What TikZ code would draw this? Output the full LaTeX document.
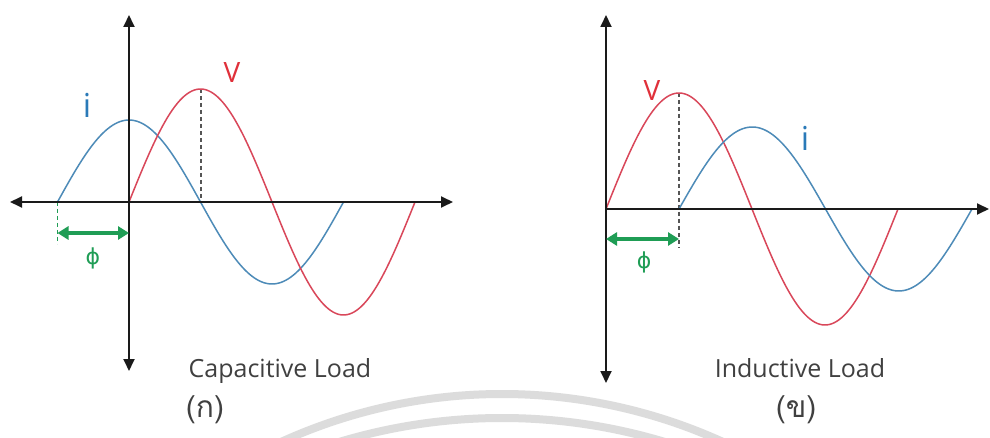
\documentclass[tikz,border=0pt]{standalone}
\usepackage{fontspec}
\setmainfont{Open Sans}
\newfontfamily\thaifont[Script=Thai]{Loma}
\newfontfamily\symfont{DejaVu Sans}
\usetikzlibrary{arrows.meta}
\definecolor{curveblue}{HTML}{4D8BB8}
\definecolor{labelblue}{HTML}{2A7AB8}
\definecolor{curvered}{HTML}{D9475A}
\definecolor{labelred}{HTML}{E0303A}
\definecolor{phigreen}{HTML}{1F9D55}
\definecolor{axisblack}{HTML}{1A1A1A}
\definecolor{dashgrey}{HTML}{555555}
\definecolor{textgrey}{HTML}{404040}
\definecolor{arcgrey}{HTML}{DCDCDC}
\tikzset{
  axisline/.style={draw=axisblack, line width=1.8pt},
  axisarrow/.style={-{Triangle[length=12pt,width=11pt]}},
  axisarrows/.style={{Triangle[length=12pt,width=11pt]}-{Triangle[length=12pt,width=11pt]}},
  icurve/.style={draw=curveblue, line width=1.5pt},
  vcurve/.style={draw=curvered, line width=1.5pt},
  dropline/.style={draw=dashgrey, line width=1.2pt, dash pattern=on 4pt off 3pt},
  greendash/.style={draw=phigreen, line width=1.2pt, dash pattern=on 4pt off 3pt},
  phiarrow/.style={draw=phigreen, line width=3.5pt, {Triangle[length=11pt,width=13pt]}-{Triangle[length=11pt,width=13pt]}},
  ilabel/.style={text=labelblue, font=\fontsize{33}{36}\selectfont, anchor=base, inner sep=0pt},
  vlabel/.style={text=labelred, font=\fontsize{28}{32}\selectfont, anchor=base, inner sep=0pt},
  philabel/.style={text=phigreen, font=\symfont\fontsize{22}{26}\selectfont, inner sep=0pt},
  loadlabel/.style={text=textgrey, font=\fontsize{25}{30}\selectfont, anchor=base, inner sep=0pt},
  thailabel/.style={text=textgrey, font=\thaifont\fontsize{30}{34}\selectfont, inner sep=0pt},
  bgarc/.style={draw=arcgrey, line width=8pt}
}
\begin{document}
\begin{tikzpicture}[x=1pt,y=-1pt]
\useasboundingbox (0,0) rectangle (990,438);
\fill[white] (0,0) rectangle (990,438);
% background arcs
\draw[bgarc] plot[domain=280:724, samples=120] (\x,{927-100*sqrt(28.4089-((\x-502)/100)^2)});
\draw[bgarc] plot[domain=338:666, samples=120] (\x,{983-100*sqrt(31.9225-((\x-502)/100)^2)});

% ===== Left panel: capacitive =====
\coordinate (LO) at (129,202);
\coordinate (LL) at (10,202);
\coordinate (LR) at (453,202);
\coordinate (LT) at (129,15);
\coordinate (LB) at (129,371);
\coordinate (LiS) at (57.5,202);
\coordinate (LiSd) at (57.5,244);
\coordinate (LOd) at (129,244);
\coordinate (LVpk) at (201,89);
\coordinate (LVax) at (201,202);
\coordinate (LAa) at (57.5,233);
\coordinate (LAb) at (129,233);
\draw[greendash] (LiS) -- (LiSd);
\draw[greendash] (LO) -- (LOd);
\draw[dropline] (LVpk) -- (LVax);
\draw[icurve] plot[domain=57.5:343.5, samples=120] (\x,{202-82*sin(((\x-57.5)/143)*180)});
\draw[vcurve] plot[domain=129:415, samples=120] (\x,{202-113*sin(((\x-129)/143)*180)});
\draw[axisline, axisarrows] (LL) -- (LR);
\draw[axisline, axisarrows] (LT) -- (LB);
\draw[phiarrow] (LAa) -- (LAb);
\node[philabel] (Lphi) at (93,258) {ϕ};
\node[ilabel] (Li) at (87,118) {i};
\node[vlabel] (LV) at (232,83) {V};
\node[loadlabel] (Lload) at (280,377) {Capacitive Load};
\node[thailabel] (Lcap) at (205,410) {(ก)};

% ===== Right panel: inductive =====
\coordinate (RO) at (606,209);
\coordinate (RR) at (989,209);
\coordinate (RT) at (606,15);
\coordinate (RB) at (606,383);
\coordinate (ROd) at (606,248);
\coordinate (RVpk) at (679,93);
\coordinate (RVax) at (679,248);
\coordinate (RAa) at (606,239);
\coordinate (RAb) at (679,239);
\draw[greendash] (RO) -- (ROd);
\draw[dropline] (RVpk) -- (RVax);
\draw[vcurve] plot[domain=606:898, samples=120] (\x,{209-116*sin(((\x-606)/146)*180)});
\draw[icurve] plot[domain=679:972, samples=120] (\x,{209-82*sin(((\x-679)/146.5)*180)});
\draw[axisline, axisarrow] (RO) -- (RR);
\draw[axisline, axisarrows] (RT) -- (RB);
\draw[phiarrow] (RAa) -- (RAb);
\node[philabel] (Rphi) at (644,262) {ϕ};
\node[ilabel] (Ri) at (805,151) {i};
\node[vlabel] (RV) at (652,101) {V};
\node[loadlabel] (Rload) at (800,377) {Inductive Load};
\node[thailabel] (Rcap) at (796,410) {(ข)};
\end{tikzpicture}
\end{document}
